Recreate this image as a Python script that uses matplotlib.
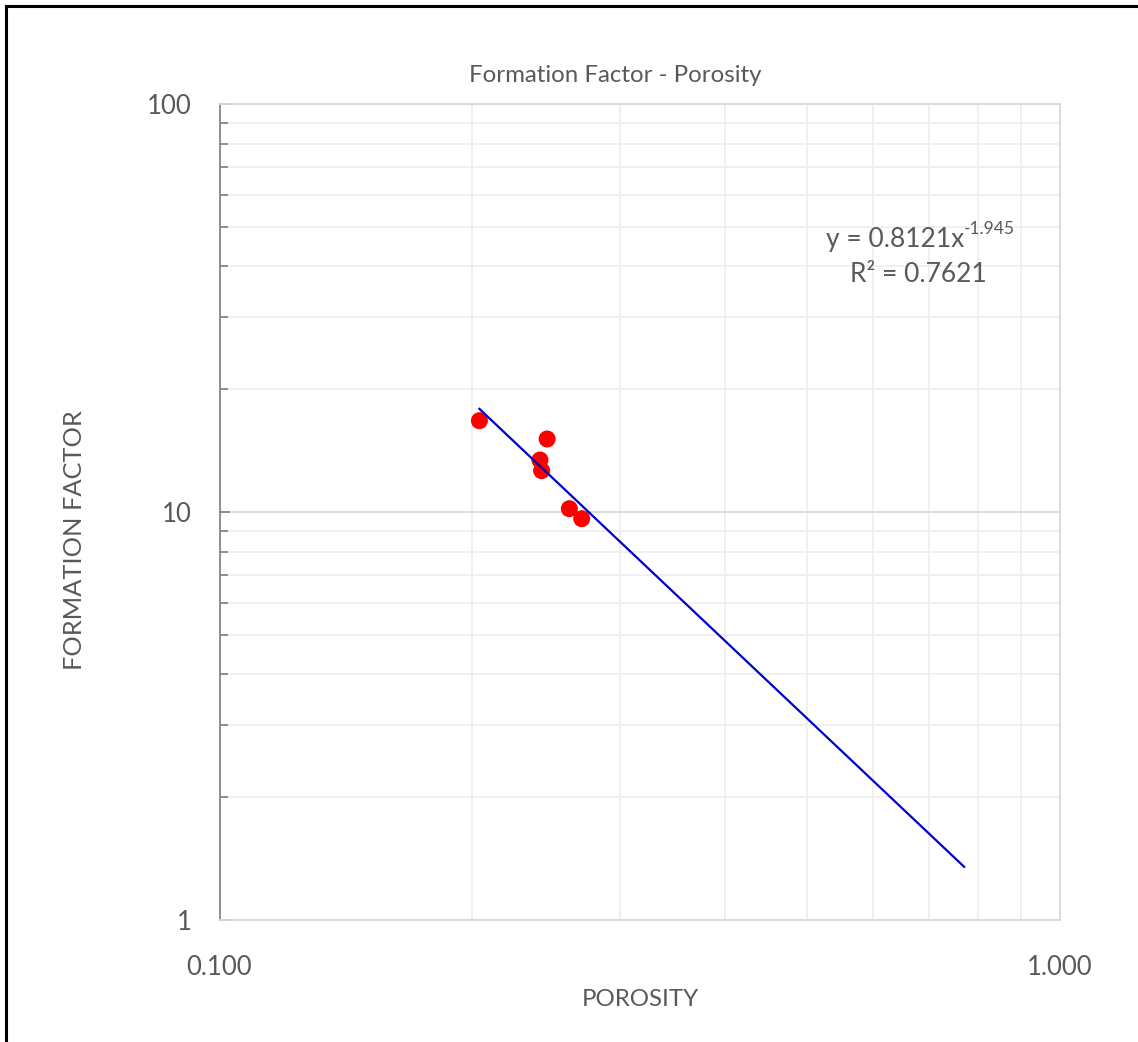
import numpy as np
import matplotlib
matplotlib.use("Agg")
import matplotlib.pyplot as plt
from matplotlib.ticker import LogLocator, FixedLocator, FuncFormatter, NullFormatter
from matplotlib.lines import Line2D

plt.rcParams['font.family'] = ['Lato', 'DejaVu Sans']

# Core measurements
porosity = [0.2039, 0.2455, 0.2407, 0.2418, 0.2609, 0.2699]
formation_factor = [16.74, 15.10, 13.41, 12.63, 10.19, 9.63]

# Power-law fit F = a * phi^b
fit_a = 0.8121
fit_b = -1.945
fit_r2 = 0.7621
fit_x_end = 0.770

x_ticks = [0.1, 1.0]
y_ticks = [1, 10, 100]

TEXT = '#595959'
W, H = 1138, 1042
fig = plt.figure(figsize=(W / 100, H / 100), dpi=100)
ax = fig.add_axes([219.5 / W, 1 - 920 / H, (1059.5 - 219.5) / W, (920 - 104) / H])

ax.set_xscale('log')
ax.set_yscale('log')
ax.set_xlim(0.1, 1.0)
ax.set_ylim(1, 100)

# gridlines
ax.xaxis.set_major_locator(FixedLocator(x_ticks))
ax.xaxis.set_minor_locator(LogLocator(base=10, subs=np.arange(2, 10)))
ax.yaxis.set_major_locator(FixedLocator(y_ticks))
ax.yaxis.set_minor_locator(LogLocator(base=10, subs=np.arange(2, 10)))
ax.xaxis.set_major_formatter(FuncFormatter(lambda v, p: f"{v:.3f}"))
ax.yaxis.set_major_formatter(FuncFormatter(lambda v, p: f"{v:g}"))
ax.xaxis.set_minor_formatter(NullFormatter())
ax.yaxis.set_minor_formatter(NullFormatter())

ax.grid(which='minor', color='#efefef', linewidth=1.3, zorder=0)
ax.grid(which='major', axis='y', color='#d9d9d9', linewidth=1.3, zorder=0)
ax.set_axisbelow(True)

ax.tick_params(axis='x', which='both', length=0, pad=25, labelsize=18.5, labelcolor=TEXT)
ax.tick_params(axis='y', which='both', direction='in', length=6, width=1.3,
               color='#868686', pad=20, labelsize=18.5, labelcolor=TEXT)
ax.tick_params(axis='y', which='major', length=7)

for side in ['top', 'right', 'bottom']:
    ax.spines[side].set_color('#d9d9d9')
    ax.spines[side].set_linewidth(1.3)
ax.spines['left'].set_color('#868686')
ax.spines['left'].set_linewidth(1.3)

# data points
ax.scatter(porosity, formation_factor, s=150, color='#ff0000', edgecolors='none', zorder=3)

# trendline
tx = np.geomspace(min(porosity), fit_x_end, 200)
ax.plot(tx, fit_a * tx ** fit_b, color='#0000cc', linewidth=1.6, zorder=4)

# equation annotation: base text followed by a raised exponent
base = fig.text(826 / W, 1 - 239 / H, f"y = {fit_a}x", ha='left', va='center',
                fontsize=19, color=TEXT)
fig.canvas.draw()
bb = base.get_window_extent()
fig.text(bb.x1 / W, (bb.y1 - 3) / H, f"{fit_b}", ha='left', va='center',
         fontsize=12.5, color=TEXT)
fig.text(918 / W, 1 - 274 / H, f"R² = {fit_r2}", ha='center', va='center',
         fontsize=19, color=TEXT)

fig.text(615 / W, 1 - 76 / H, "Formation Factor - Porosity", ha='center', va='center',
         fontsize=17.3, color=TEXT)
fig.text(640 / W, 1 - 1000 / H, "POROSITY", ha='center', va='center',
         fontsize=17.3, color=TEXT)
fig.text(75 / W, 1 - 540 / H, "FORMATION FACTOR", ha='center', va='center',
         rotation=90, fontsize=18.3, color=TEXT)

# outer frame (left and top edges)
fig.add_artist(Line2D([6 / W, 6 / W], [0, 1 - 6 / H], color='black', linewidth=2.2,
                      transform=fig.transFigure))
fig.add_artist(Line2D([6 / W, 1], [1 - 6 / H, 1 - 6 / H], color='black', linewidth=2.2,
                      transform=fig.transFigure))

fig.savefig('out.png', dpi=100, facecolor='white')
